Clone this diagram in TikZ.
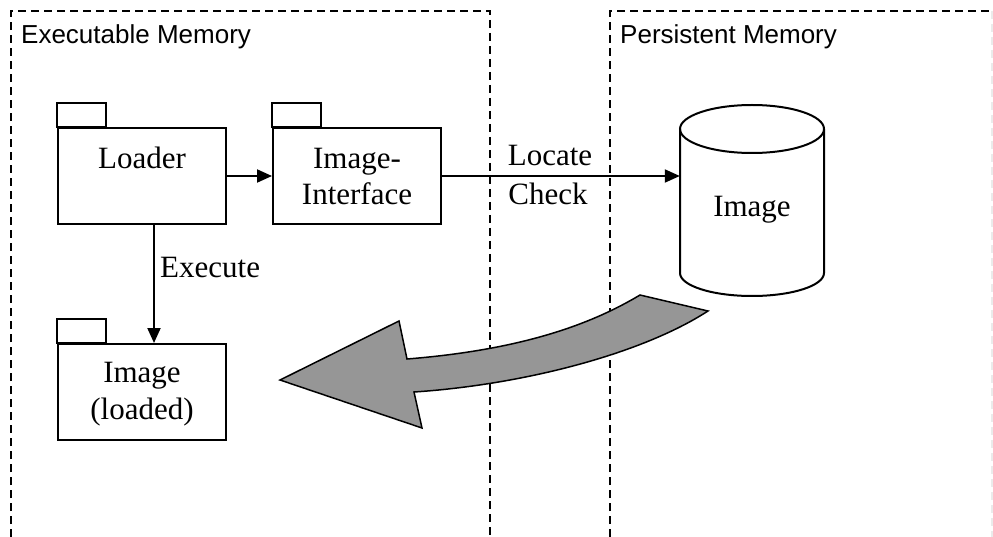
\documentclass[tikz,border=0pt]{standalone}
\usepackage{fontspec}
\setmainfont{Liberation Serif}
\newfontfamily\regionfont{Liberation Sans}
\usetikzlibrary{arrows.meta}
\definecolor{arrowgray}{RGB}{150,150,150}
\tikzset{
  region/.style={line width=1.4pt, dash pattern=on 8pt off 5pt},
  pkgbox/.style={draw, line width=2pt, minimum width=168pt, minimum height=96pt, inner sep=0pt},
  pkgtext/.style={anchor=base, font=\fontsize{31}{36}\selectfont, inner sep=0pt},
  regionlabel/.style={anchor=base west, font=\regionfont\fontsize{26}{30}\selectfont, inner sep=0pt},
  lbl/.style={font=\fontsize{31}{36}\selectfont, inner sep=0pt},
  conn/.style={line width=2pt, -{Triangle[length=15pt,width=13pt]}},
  bigarrow/.style={draw, line width=1.5pt, fill=arrowgray, line join=miter},
}
\begin{document}
\begin{tikzpicture}[x=1pt,y=-1pt]
\useasboundingbox (0,0) rectangle (993,537);
% regions
\draw[region] (11,537) -- (11,11) -- (490,11) -- (490,537);
\draw[region] (610,537) -- (610,11) -- (993,11);
\draw[region, color=black!8] (992,11) -- (992,537);
\node[regionlabel] (exlabel) at (21,44) {Executable Memory};
\node[regionlabel] (pmlabel) at (620,44) {Persistent Memory};
% packages
\node[pkgbox] (loader) at (142,176) {};
\draw[line width=2pt] (loader.north west) rectangle ++(49,-24);
\node[pkgtext] (loadertext) at (142,169) {Loader};
\node[pkgbox] (iface) at (357,176) {};
\draw[line width=2pt] (iface.north west) rectangle ++(49,-24);
\node[pkgtext] (ifacetext1) at (357,169) {Image-};
\node[pkgtext] (ifacetext2) at (357,205) {Interface};
\node[pkgbox] (loaded) at (142,392) {};
\draw[line width=2pt] (loaded.north west) rectangle ++(49,-24);
\node[pkgtext] (loadedtext1) at (142,382) {Image};
\node[pkgtext] (loadedtext2) at (142,419) {(loaded)};
% cylinder
\node[minimum width=144pt, minimum height=191pt, inner sep=0pt] (cyl) at (752,200.5) {};
\draw[line width=2pt, fill=white] (680,129) -- (680,273) arc[start angle=180, end angle=0, x radius=72, y radius=23] -- (824,129);
\draw[line width=2pt] (752,129) ellipse[x radius=72, y radius=24];
\node[pkgtext] (cyltext) at (752,217) {Image};
% connectors
\draw[conn] (loader.east) -- (iface.west);
\draw[conn] (iface.east) -- (iface.east -| cyl.west);
\node[lbl, anchor=base] (locate) at (550,166) {Locate};
\node[lbl, anchor=base] (check) at (548,205) {Check};
\draw[conn] ([xshift=12pt]loader.south) -- ([xshift=12pt]loaded.north);
\node[lbl, anchor=base west] (execute) at (160,278) {Execute};
% big curved arrow
\draw[bigarrow] (280,380) -- (399,321) -- (407,359)
  .. controls (520,350) and (590,325) .. (640,295)
  -- (708,311)
  .. controls (640,355) and (520,385) .. (414,392)
  -- (422,428) -- cycle;
\end{tikzpicture}
\end{document}
